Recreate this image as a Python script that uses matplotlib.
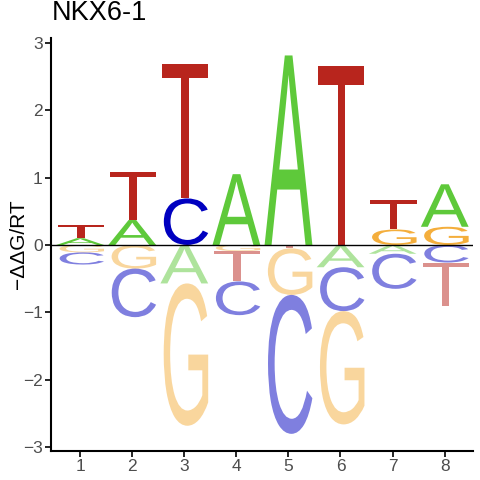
import numpy as np
import matplotlib
matplotlib.use("Agg")
import matplotlib.pyplot as plt
from matplotlib.textpath import TextPath
from matplotlib.font_manager import FontProperties
from matplotlib.patches import PathPatch
from matplotlib.transforms import Affine2D

# ddG/RT per base at each position
positions = [1, 2, 3, 4, 5, 6, 7, 8]
A = [0.10, 0.37, -0.57, 1.05, 2.81, -0.33, -0.13, 0.63]
C = [-0.18, -0.72, 0.69, -0.50, -2.06, -0.65, -0.52, -0.26]
G = [-0.11, -0.35, -2.11, -0.09, -0.69, -1.68, 0.23, 0.27]
T = [0.19, 0.71, 2.00, -0.45, -0.05, 2.66, 0.43, -0.64]
bases = ["A", "C", "G", "T"]
values = {"A": A, "C": C, "G": G, "T": T}
title = "NKX6-1"

colors = {"A": "#5ec93a", "C": "#0000c0", "G": "#f4ae3c", "T": "#b8251d"}

fp = FontProperties(family="Liberation Sans")
glyphs = {b: TextPath((0, 0), b, size=1, prop=fp) for b in bases}


def draw_letter(ax, base, x, y0, y1, alpha, width=0.92):
    path = glyphs[base]
    v = path.vertices
    xmin, ymin = v.min(axis=0)
    xmax, ymax = v.max(axis=0)
    tr = (Affine2D()
          .translate(-xmin, -ymin)
          .scale(width / (xmax - xmin), (y1 - y0) / (ymax - ymin))
          .translate(x - width / 2, y0))
    p = tr.transform_path(path)
    ax.add_patch(PathPatch(p, facecolor=colors[base], edgecolor="none",
                           alpha=alpha, lw=0))


fig = plt.figure(figsize=(4.8, 4.8), dpi=100)
ax = fig.add_axes([0.106, 0.061, 0.879, 0.860])

for i, pos in enumerate(positions):
    vals = [(b, values[b][i]) for b in bases]
    pos_vals = sorted([bv for bv in vals if bv[1] > 0], key=lambda t: t[1])
    neg_vals = sorted([bv for bv in vals if bv[1] < 0], key=lambda t: -t[1])
    y = 0.0
    for b, v in pos_vals:
        draw_letter(ax, b, pos, y, y + v, 1.0)
        y += v
    y = 0.0
    for b, v in neg_vals:
        draw_letter(ax, b, pos, y + v, y, 0.5)
        y += v

ax.axhline(0, color="black", lw=1.0)
ax.set_xlim(0.44, 8.54)
ax.set_ylim(-3.05, 3.07)
ax.set_xticks(positions)
ax.set_yticks([-3, -2, -1, 0, 1, 2, 3])
ax.tick_params(labelsize=12.5, colors="black", labelcolor="#4d4d4d", length=4, width=1.2, pad=2)
for lab in ax.get_xticklabels() + ax.get_yticklabels():
    lab.set_family("Liberation Sans")
for s in ["top", "right"]:
    ax.spines[s].set_visible(False)
for s in ["left", "bottom"]:
    ax.spines[s].set_linewidth(1.5)
ax.set_ylabel("\u2212\u0394\u0394G/RT", fontsize=15, family="Liberation Sans", va="center")
ax.yaxis.set_label_coords(-0.077, 0.5)
fig.text(0.108, 0.945, title, fontsize=19.5, family="Liberation Sans", va="bottom", ha="left")

fig.savefig("out.png", dpi=100)
